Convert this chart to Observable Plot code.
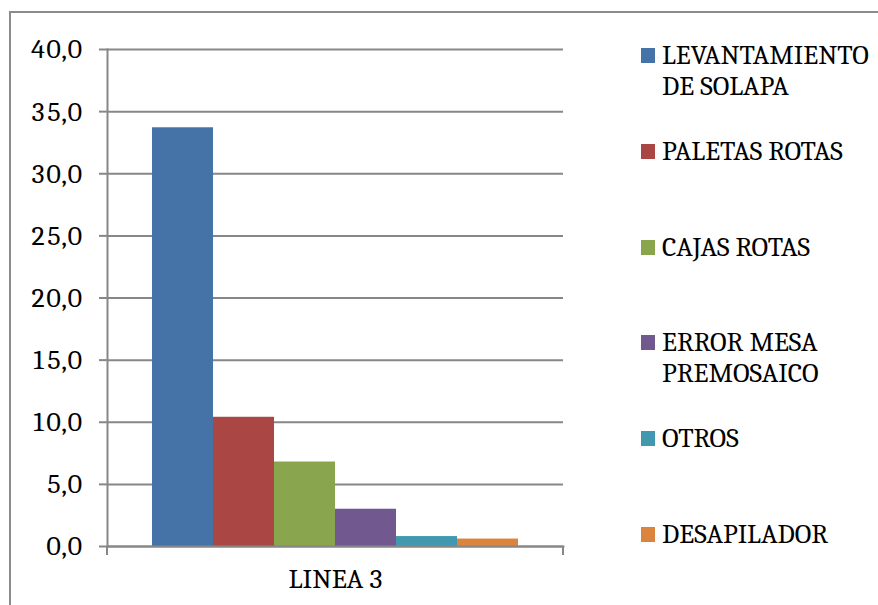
<!DOCTYPE html>
<html>
<head>
<meta charset="utf-8">
<script src="https://cdn.jsdelivr.net/npm/d3@7"></script>
<script src="https://cdn.jsdelivr.net/npm/@observablehq/plot@0.6"></script>
<style>
  html, body { margin: 0; padding: 0; background: #fff; overflow: hidden; }
  #wrap { position: relative; width: 878px; height: 605px; font-family: Cambria, "Liberation Serif", serif; }
  #border { position: absolute; left: 9px; top: 11px; width: 900px; height: 640px; border: 2px solid #8c8c8c; box-sizing: border-box; }
  #chart { position: absolute; left: 0; top: 0; }
  #legend { position: absolute; left: 641px; top: 40px; }
  .item { position: relative; height: 95.8px; width: 235px; }
  .swatch { position: absolute; left: 0; top: 8px; width: 14px; height: 15px; }
  .label { position: absolute; left: 21px; top: 0; width: 215px; font-size: 27.6px; line-height: 31px; color: #000; }
</style>
</head>
<body>
<div id="wrap">
  <div id="border"></div>
  <div id="chart"></div>
  <div id="legend"></div>
</div>
<script>
// Incidencias por causa en la línea 3
const categories = ["LINEA 3"];
const series = [
  "LEVANTAMIENTO DE SOLAPA",
  "PALETAS ROTAS",
  "CAJAS ROTAS",
  "ERROR MESA PREMOSAICO",
  "OTROS",
  "DESAPILADOR"
];
const values = [33.7, 10.4, 6.8, 3.0, 0.8, 0.6];
const colors = ["#4572A7", "#AA4643", "#89A54E", "#71588F", "#4198AF", "#DB843D"];
const yTicks = [0, 5, 10, 15, 20, 25, 30, 35, 40];

const rows = series.map((s, i) => ({ linea: categories[0], causa: s, valor: values[i] }));

const gray = "#878787";
const fmt = d => d.toFixed(1).replace(".", ",");

// Short tick marks hanging below the category axis at the band edges
const edgeTicks = (index, scales, values, dims) => {
  const g = d3.create("svg:g");
  const y0 = dims.height - dims.marginBottom;
  for (const x of [dims.marginLeft, dims.width - dims.marginRight]) {
    g.append("line")
      .attr("x1", x).attr("x2", x)
      .attr("y1", y0).attr("y2", y0 + 9)
      .attr("stroke", gray).attr("stroke-width", 2);
  }
  return g.node();
};

const chart = Plot.plot({
  width: 878,
  height: 605,
  marginLeft: 107,
  marginRight: 315,
  marginTop: 49,
  marginBottom: 59,
  style: { fontFamily: "Cambria, 'Liberation Serif', serif", background: "transparent", color: "#000", overflow: "visible" },
  fx: { domain: categories, padding: 0, round: false, label: null },
  x: { domain: series, paddingInner: 0, paddingOuter: 0.738, round: false, axis: null },
  y: { domain: [0, 40], label: null },
  color: { domain: series, range: colors },
  marks: [
    Plot.gridY(yTicks, { stroke: gray, strokeOpacity: 1, strokeWidth: 2 }),
    Plot.axisY(yTicks, {
      tickSize: 8, tickPadding: 17, tickFormat: fmt, fontSize: 28,
      stroke: gray, strokeWidth: 2, fill: "#000", label: null
    }),
    Plot.barY(rows, { fx: "linea", x: "causa", y: "valor", fill: "causa" }),
    Plot.frame({ anchor: "left", stroke: gray, strokeWidth: 2 }),
    Plot.frame({ anchor: "bottom", stroke: gray, strokeWidth: 2 }),
    Plot.axisFx({ anchor: "bottom", tickSize: 0, tickPadding: 22, fontSize: 28, label: null, fill: "#000" }),
    edgeTicks
  ]
});
document.getElementById("chart").appendChild(chart);

// Legend on the right, one entry per cause
const legend = d3.select("#legend");
series.forEach((s, i) => {
  const item = legend.append("div").attr("class", "item");
  item.append("div").attr("class", "swatch").style("background", colors[i]);
  item.append("div").attr("class", "label").text(s);
});
</script>
</body>
</html>
